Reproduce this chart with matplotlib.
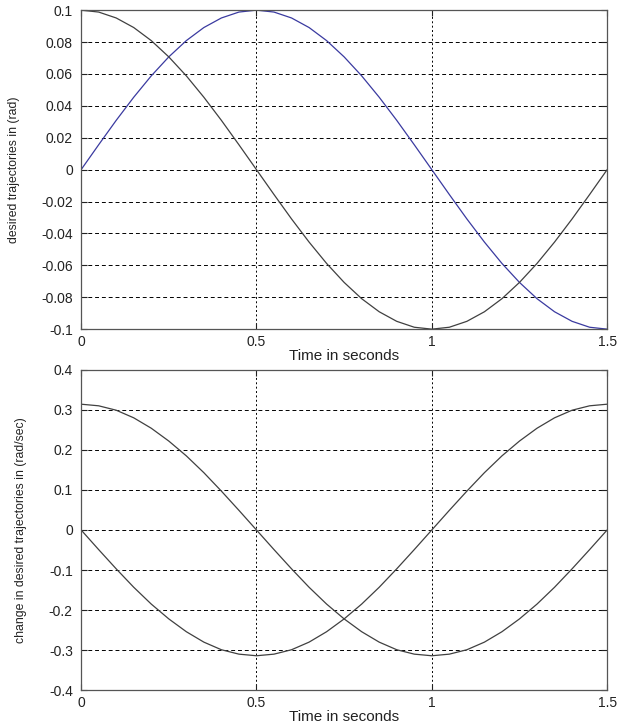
import matplotlib
matplotlib.use("Agg")
import matplotlib.pyplot as plt
import numpy as np

# sample times (s) and values, every 0.05 s
t = np.arange(0, 31) * 0.05

pos_a = [0.0, 0.0156, 0.0309, 0.0454, 0.0588, 0.0707, 0.0809, 0.0891, 0.0951, 0.0988,
         0.1, 0.0988, 0.0951, 0.0891, 0.0809, 0.0707, 0.0588, 0.0454, 0.0309, 0.0156,
         0.0, -0.0156, -0.0309, -0.0454, -0.0588, -0.0707, -0.0809, -0.0891, -0.0951, -0.0988,
         -0.1]
pos_b = [0.1, 0.0988, 0.0951, 0.0891, 0.0809, 0.0707, 0.0588, 0.0454, 0.0309, 0.0156,
         0.0, -0.0156, -0.0309, -0.0454, -0.0588, -0.0707, -0.0809, -0.0891, -0.0951, -0.0988,
         -0.1, -0.0988, -0.0951, -0.0891, -0.0809, -0.0707, -0.0588, -0.0454, -0.0309, -0.0156,
         0.0]
vel_a = [0.314, 0.310, 0.299, 0.280, 0.254, 0.222, 0.185, 0.143, 0.097, 0.049,
         0.0, -0.049, -0.097, -0.143, -0.185, -0.222, -0.254, -0.280, -0.299, -0.310,
         -0.314, -0.310, -0.299, -0.280, -0.254, -0.222, -0.185, -0.143, -0.097, -0.049,
         0.0]
vel_b = [0.0, -0.049, -0.097, -0.143, -0.185, -0.222, -0.254, -0.280, -0.299, -0.310,
         -0.314, -0.310, -0.299, -0.280, -0.254, -0.222, -0.185, -0.143, -0.097, -0.049,
         0.0, 0.049, 0.097, 0.143, 0.185, 0.222, 0.254, 0.280, 0.299, 0.310,
         0.314]

x_ticks = [0, 0.5, 1, 1.5]
x_labels = ["0", "0.5", "1", "1.5"]
top_ticks = [0.1, 0.08, 0.06, 0.04, 0.02, 0, -0.02, -0.04, -0.06, -0.08, -0.1]
top_labels = ["0.1", "0.08", "0.06", "0.04", "0.02", "0", "-0.02", "-0.04", "-0.06", "-0.08", "-0.1"]
bot_ticks = [0.4, 0.3, 0.2, 0.1, 0, -0.1, -0.2, -0.3, -0.4]
bot_labels = ["0.4", "0.3", "0.2", "0.1", "0", "-0.1", "-0.2", "-0.3", "-0.4"]

plt.rcParams["font.family"] = ["Liberation Sans", "DejaVu Sans"]
narrow = ["Liberation Sans Narrow", "Liberation Sans", "DejaVu Sans"]

fig = plt.figure(figsize=(6.24, 7.25), dpi=100)
ax1 = fig.add_axes([0.130, 0.546, 0.843, 0.440])
ax2 = fig.add_axes([0.130, 0.048, 0.843, 0.442])


def style(ax, yticks, ylabels, ylim, ylabel, ylab_x):
    ax.set_xlim(0, 1.5)
    ax.set_ylim(*ylim)
    ax.set_xticks(x_ticks)
    ax.set_xticklabels(x_labels)
    ax.set_yticks(yticks)
    ax.set_yticklabels(ylabels)
    ax.tick_params(direction="in", length=4, width=0.8, color="#222222",
                   labelsize=10, top=True, right=True, labelcolor="#222222")
    ax.tick_params(axis="y", pad=6)
    ax.tick_params(axis="x", pad=4)
    for s in ax.spines.values():
        s.set_color("#555555")
        s.set_linewidth(0.9)
    # matlab style grid: dashed horizontals, dotted verticals
    for y in yticks[1:-1]:
        ax.axhline(y, color="black", lw=0.7, dashes=(4, 3), zorder=0)
    for x in x_ticks[1:-1]:
        ax.axvline(x, color="black", lw=0.7, dashes=(2, 2.5), zorder=0)
    ax.set_xlabel("Time in seconds", fontsize=11, labelpad=0, color="#222222")
    ax.set_ylabel(ylabel, fontsize=8.8, family=narrow, color="#222222")
    ax.yaxis.set_label_coords(ylab_x, 0.5)


ax1.plot(t, pos_a, color="#3a3aa0", lw=0.9)
ax1.plot(t, pos_b, color="#404040", lw=0.9)
style(ax1, top_ticks, top_labels, (-0.1, 0.1), "desired trajectories in (rad)", -0.116)

ax2.plot(t, vel_a, color="#404040", lw=0.9)
ax2.plot(t, vel_b, color="#404040", lw=0.9)
style(ax2, bot_ticks, bot_labels, (-0.4, 0.4), "change in desired trajectories in (rad/sec)", -0.103)

fig.savefig("out.png", dpi=100)
